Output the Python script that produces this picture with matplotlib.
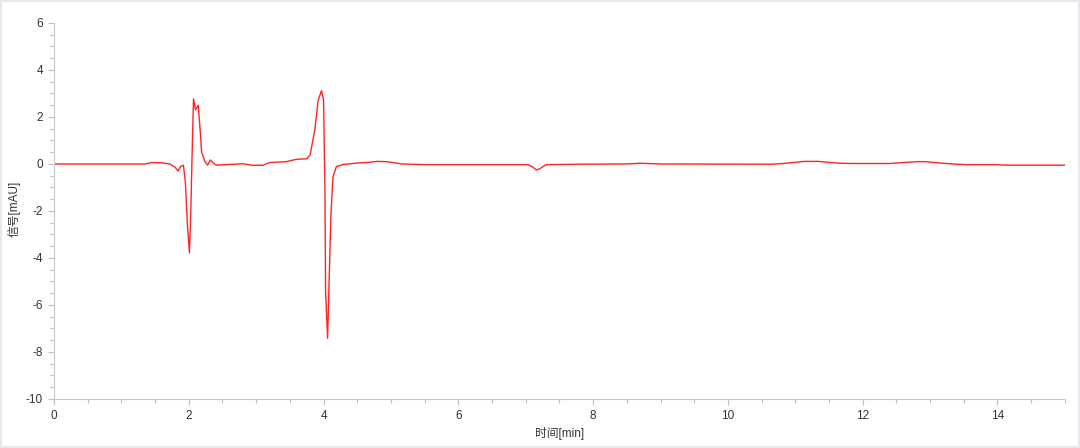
import matplotlib
matplotlib.use("Agg")
import matplotlib.pyplot as plt
from matplotlib.ticker import MultipleLocator
from matplotlib.patches import Rectangle

plt.rcParams['font.family'] = ['Liberation Sans', 'Noto Sans CJK SC', 'DejaVu Sans']
plt.rcParams['axes.unicode_minus'] = False

# chromatogram trace (time in min, signal in mAU)
time_min = [0.0, 0.5, 1.0, 1.35, 1.45, 1.6, 1.72, 1.8, 1.84, 1.88, 1.92, 1.95,
            1.98, 2.01, 2.03, 2.05, 2.07, 2.10, 2.14, 2.17, 2.19, 2.24, 2.28,
            2.32, 2.36, 2.41, 2.6, 2.8, 2.95, 3.1, 3.2, 3.45, 3.6, 3.75, 3.80,
            3.87, 3.92, 3.97, 4.00, 4.02, 4.03, 4.06, 4.08, 4.11, 4.14, 4.19,
            4.29, 4.54, 4.64, 4.79, 4.94, 5.16, 5.53, 7.03, 7.10, 7.16, 7.21,
            7.30, 7.8, 8.5, 8.7, 9.0, 10.65, 10.82, 10.89, 11.07, 11.14, 11.34,
            11.61, 11.81, 12.40, 12.60, 12.82, 12.92, 13.15, 13.34, 13.54,
            13.99, 14.13, 15.0]
signal = [0.0, 0.0, 0.0, 0.0, 0.06, 0.05, 0.0, -0.15, -0.3, -0.1, -0.05, -0.8,
          -2.6, -3.78, -2.0, 0.5, 2.77, 2.3, 2.5, 1.4, 0.5, 0.1, -0.05,
          0.17, 0.05, -0.05, -0.02, 0.01, -0.06, -0.05, 0.06, 0.1, 0.2, 0.22, 0.38,
          1.45, 2.72, 3.12, 2.72, -0.97, -5.43, -7.42, -5.22, -2.1, -0.54, -0.11,
          -0.02, 0.05, 0.06, 0.11, 0.1, 0.0, -0.03, -0.03, -0.12, -0.26, -0.2,
          -0.03, -0.01, 0.0, 0.03, 0.0, -0.01, 0.02, 0.04, 0.09, 0.11, 0.11,
          0.04, 0.02, 0.02, 0.06, 0.10, 0.10, 0.04, 0.0, -0.03,
          -0.03, -0.05, -0.05]

x_ticks = [0, 2, 4, 6, 8, 10, 12, 14]
y_ticks = [-10, -8, -6, -4, -2, 0, 2, 4, 6]

fig = plt.figure(figsize=(10.8, 4.48), dpi=100)
fig.patches.append(Rectangle((0, 0), 1, 1, transform=fig.transFigure,
                             fill=False, edgecolor='#e8e8ee', linewidth=3))
ax = fig.add_axes([0.05, 0.1094, 0.936, 0.8393])

ax.plot(time_min, signal, color='#ff2424', linewidth=1.0)

ax.set_xlim(0, 15)
ax.set_ylim(-10, 6)
ax.set_xticks(x_ticks)
ax.set_yticks(y_ticks)
ax.xaxis.set_minor_locator(MultipleLocator(0.5))
ax.yaxis.set_minor_locator(MultipleLocator(0.5))

for s in ['top', 'right']:
    ax.spines[s].set_visible(False)
for s in ['left', 'bottom']:
    ax.spines[s].set_color('#c8c8c8')
    ax.spines[s].set_linewidth(0.8)

ax.tick_params(which='both', direction='out', color='#c0c0c0', width=0.8)
ax.tick_params(which='major', length=4, labelsize=8.5, labelcolor='#333333', pad=4)
ax.tick_params(which='minor', length=3)

ax.set_xlabel('时间[min]', fontsize=8.5, color='#333333')
ax.set_ylabel('信号[mAU]', fontsize=8.5, color='#333333')
ax.xaxis.set_label_coords(0.5, -0.075)
ax.yaxis.set_label_coords(-0.033, 0.505)

fig.savefig('out.png', dpi=100)
